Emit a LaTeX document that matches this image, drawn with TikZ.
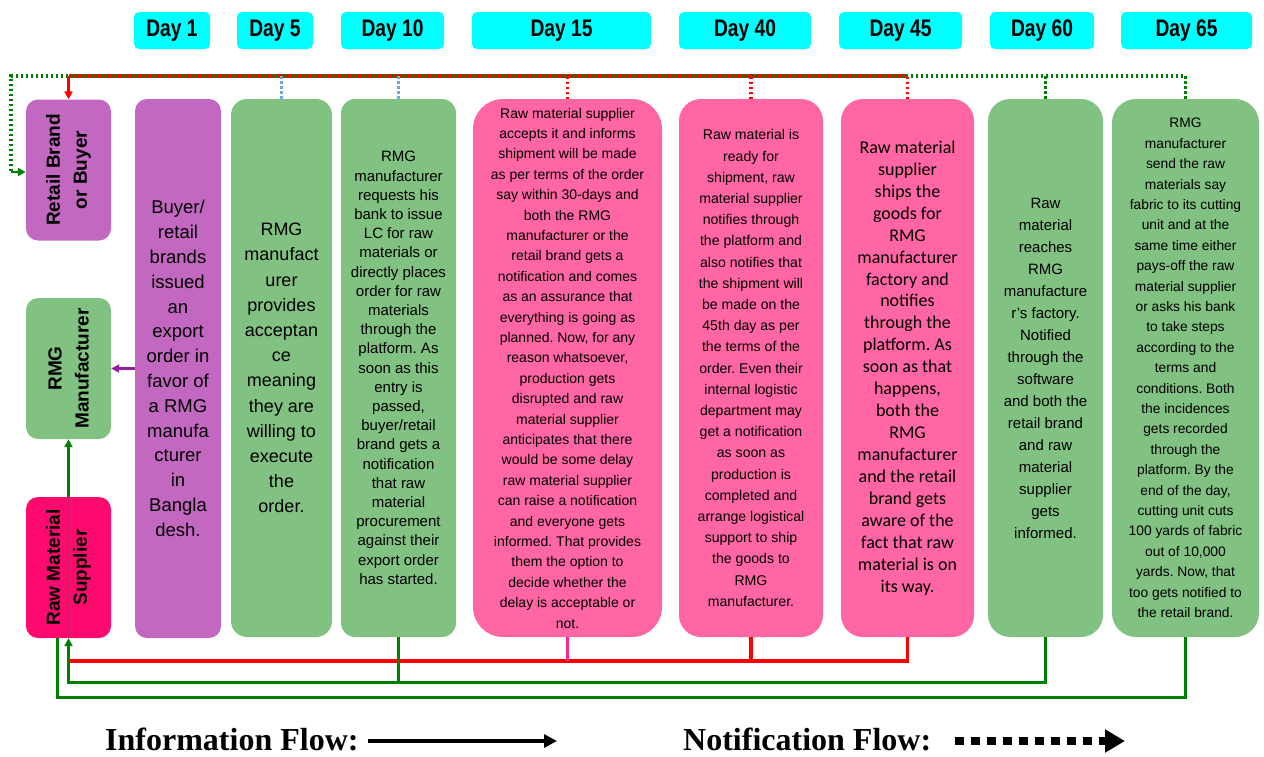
\documentclass[tikz,border=0pt]{standalone}
\usepackage{fontspec}
\setmainfont{Liberation Sans}
\newfontfamily\dayfont[FakeStretch=0.8]{Liberation Sans}
\newfontfamily\calfont{Carlito}
\newfontfamily\legfont{Liberation Serif}
\usetikzlibrary{arrows.meta,calc}
\frenchspacing
\definecolor{daycyan}{RGB}{0,255,255}
\definecolor{purpb}{RGB}{195,104,192}
\definecolor{greenb}{RGB}{129,193,129}
\definecolor{pinkb}{RGB}{255,102,163}
\definecolor{rmsb}{RGB}{255,10,110}
\definecolor{rmsdark}{RGB}{205,20,95}
\definecolor{bluedot}{RGB}{112,168,220}
\definecolor{lgreen}{RGB}{0,128,0}
\definecolor{lpurple}{RGB}{150,30,160}
\definecolor{lpink}{RGB}{250,40,140}
\begin{document}
\begin{tikzpicture}[x=1pt,y=-1pt,
  daybox/.style={fill=daycyan, rounded corners=5, inner sep=0pt, minimum height=37,
    font=\dayfont\bfseries\fontsize{24}{26}\selectfont},
  sidebox/.style={rounded corners=12, inner sep=0pt, minimum width=85, minimum height=141},
  sidelabel/.style={rotate=90, align=center, inner sep=0pt, font=\bfseries\fontsize{19}{27}\selectfont},
  mainbox/.style={inner sep=0pt, align=center, minimum height=538},
  tip/.style={-{Triangle[length=8,width=8]}},
  gdot/.style={draw=lgreen, line width=3.2, dash pattern=on 2.5pt off 2.5pt},
  rdot/.style={draw=red, line width=3.2, dash pattern=on 2.5pt off 2.5pt, dash phase=0.5pt},
  bdot/.style={draw=bluedot, line width=2.8, dash pattern=on 2.5pt off 2.5pt},
  redline/.style={draw=red, line width=3.6},
  greenline/.style={draw=lgreen, line width=3},
  legtext/.style={anchor=base west, inner sep=0pt, font=\legfont\bfseries\fontsize{32}{34}\selectfont}
]
\useasboundingbox (0,0) rectangle (1264,756);

% Day labels
\node[daybox, minimum width=76] (d1) at (172,30.5) {Day 1};
\node[daybox, minimum width=76] (d2) at (275,30.5) {Day 5};
\node[daybox, minimum width=103] (d3) at (392.5,30.5) {Day 10};
\node[daybox, minimum width=179] (d4) at (561.5,30.5) {Day 15};
\node[daybox, minimum width=132] (d5) at (745,30.5) {Day 40};
\node[daybox, minimum width=123] (d6) at (900.5,30.5) {Day 45};
\node[daybox, minimum width=104] (d7) at (1042,30.5) {Day 60};
\node[daybox, minimum width=131] (d8) at (1186.5,30.5) {Day 65};

% Side boxes
\node[sidebox, fill=purpb] (RB) at (68.5,170) {};
\node[sidelabel] (RBt) at (RB.center) {Retail Brand\\or Buyer};
\node[sidebox, fill=greenb] (RMG) at (68.5,368.5) {};
\node[sidelabel] (RMGt) at (RMG.center) {RMG\\Manufacturer};
\node[sidebox, fill=rmsb] (RMS) at (68.5,567.5) {};
\draw[rmsdark, line width=1.8] (RMS.south) -- (RMS.north);
\node[sidelabel] (RMSt) at (RMS.center) {Raw Material\\Supplier};

% Main boxes
\node[mainbox, fill=purpb, rounded corners=12, minimum width=86, minimum height=539,
  font=\fontsize{18.5}{24.8}\selectfont] (b2) at (178,368.5)
  {Buyer/\\retail\\brands\\issued\\an\\export\\order in\\favor of\\a RMG\\manufa\\cturer\\in\\Bangla\\desh.};
\node[mainbox, fill=greenb, rounded corners=16, minimum width=101,
  font=\fontsize{18}{25.2}\selectfont] (b3) at (281.5,368)
  {RMG\\manufact\\urer\\provides\\acceptan\\ce\\meaning\\they are\\willing to\\execute\\the\\order.};
\node[mainbox, fill=greenb, rounded corners=14, minimum width=115,
  font=\fontsize{15}{19.2}\selectfont] (b4) at (398.5,368)
  {RMG\\manufacturer\\requests his\\bank to issue\\LC for raw\\materials or\\directly places\\order for raw\\materials\\through the\\platform. As\\soon as this\\entry is\\passed,\\buyer/retail\\brand gets a\\notification\\that raw\\material\\procurement\\against their\\export order\\has started.};
\node[mainbox, fill=pinkb, rounded corners=30, minimum width=189,
  font=\fontsize{14}{20.4}\selectfont] (b5) at (567.5,368)
  {Raw material supplier\\accepts it and informs\\shipment will be made\\as per terms of the order\\say within 30-days and\\both the RMG\\manufacturer or the\\retail brand gets a\\notification and comes\\as an assurance that\\everything is going as\\planned. Now, for any\\reason whatsoever,\\production gets\\disrupted and raw\\material supplier\\anticipates that there\\would be some delay\\raw material supplier\\can raise a notification\\and everyone gets\\informed. That provides\\them the option to\\decide whether the\\delay is acceptable or\\not.};
\node[mainbox, fill=pinkb, rounded corners=22, minimum width=144,
  font=\fontsize{14.1}{21.2}\selectfont] (b6) at (751,368)
  {Raw material is\\ready for\\shipment, raw\\material supplier\\notifies through\\the platform and\\also notifies that\\the shipment will\\be made on the\\45th day as per\\the terms of the\\order. Even their\\internal logistic\\department may\\get a notification\\as soon as\\production is\\completed and\\arrange logistical\\support to ship\\the goods to\\RMG\\manufacturer.};
\node[mainbox, fill=pinkb, rounded corners=22, minimum width=133,
  font=\calfont\fontsize{18}{21.95}\selectfont] (b7) at (907.5,368)
  {Raw material\\supplier\\ships the\\goods for\\RMG\\manufacturer\\factory and\\notifies\\through the\\platform. As\\soon as that\\happens,\\both the\\RMG\\manufacturer\\and the retail\\brand gets\\aware of the\\fact that raw\\material is on\\its way.};
\node[mainbox, fill=greenb, rounded corners=22, minimum width=115,
  font=\fontsize{15}{22}\selectfont] (b8) at (1045.5,368)
  {Raw\\material\\reaches\\RMG\\manufacture\\r's factory.\\Notified\\through the\\software\\and both the\\retail brand\\and raw\\material\\supplier\\gets\\informed.};
\node[mainbox, fill=greenb, rounded corners=24, minimum width=147,
  font=\fontsize{13.8}{20.4}\selectfont] (b9) at (1185.5,368)
  {RMG\\manufacturer\\send the raw\\materials say\\fabric to its cutting\\unit and at the\\same time either\\pays-off the raw\\material supplier\\or asks his bank\\to take steps\\according to the\\terms and\\conditions. Both\\the incidences\\gets recorded\\through the\\platform. By the\\end of the day,\\cutting unit cuts\\100 yards of fabric\\out of 10,000\\yards. Now, that\\too gets notified to\\the retail brand.};

% bus levels
\coordinate (topbus) at (0,76);
\coordinate (redbus) at (0,661);
\coordinate (gbus1) at (0,682);
\coordinate (gbus2) at (0,697);
\coordinate (gcorner) at (11,76);
\coordinate (gcorner2) at (11,172);
\coordinate (rcorner) at (68.5,76);
\coordinate (g2x) at (57,0);

% notification flow (top)
\draw[gdot] (b8.north) -- (b8.north |- topbus);
\draw[gdot] (b9.north) -- (b9.north |- topbus) -- (gcorner) -- (gcorner2);
\draw[lgreen, line width=2.4, tip] (gcorner2) -- (RB.west |- gcorner2);
\draw[rdot] (b7.north) -- (b7.north |- topbus) -- (rcorner);
\draw[rdot] (b6.north) -- (b6.north |- topbus);
\draw[rdot] (b5.north) -- (b5.north |- topbus);
\draw[red, line width=2.6, tip] (rcorner) -- (RB.north);
\draw[bdot] (b3.north) -- (b3.north |- topbus);
\draw[bdot] (b4.north) -- (b4.north |- topbus);

% information flow (bottom)
\draw[redline] (b7.south) -- (b7.south |- redbus) -- (RMS.south |- redbus);
\draw[redline] (b6.south) -- (b6.south |- redbus);
\draw[lpink, line width=2.4] (b5.south) -- (b5.south |- redbus);
\draw[greenline, tip] (b8.south) -- (b8.south |- gbus1) -- (RMS.south |- gbus1) -- (RMS.south);
\draw[greenline] (b4.south) -- (b4.south |- gbus1);
\draw[greenline] (b9.south) -- (b9.south |- gbus2) -- (g2x |- gbus2) -- (g2x |- RMS.south);
\draw[greenline, tip] (RMS.north) -- (RMG.south);
\draw[lpurple, line width=2.6, tip] (b2.west |- RMG.east) -- (RMG.east);

% legend
\node[legtext] (leg1) at (105,750) {Information Flow:};
\coordinate (la1) at (368,741);
\coordinate (la2) at (557,741);
\draw[line width=3.2, -{Triangle[length=13,width=13]}] (la1) -- (la2);
\node[legtext] (leg2) at (683,750) {Notification Flow:};
\coordinate (lb1) at (955,741);
\coordinate (lb2) at (1125,741);
\draw[line width=8, dash pattern=on 9pt off 7pt, -{Triangle[length=20,width=22]}] (lb1) -- (lb2);
\end{tikzpicture}
\end{document}
